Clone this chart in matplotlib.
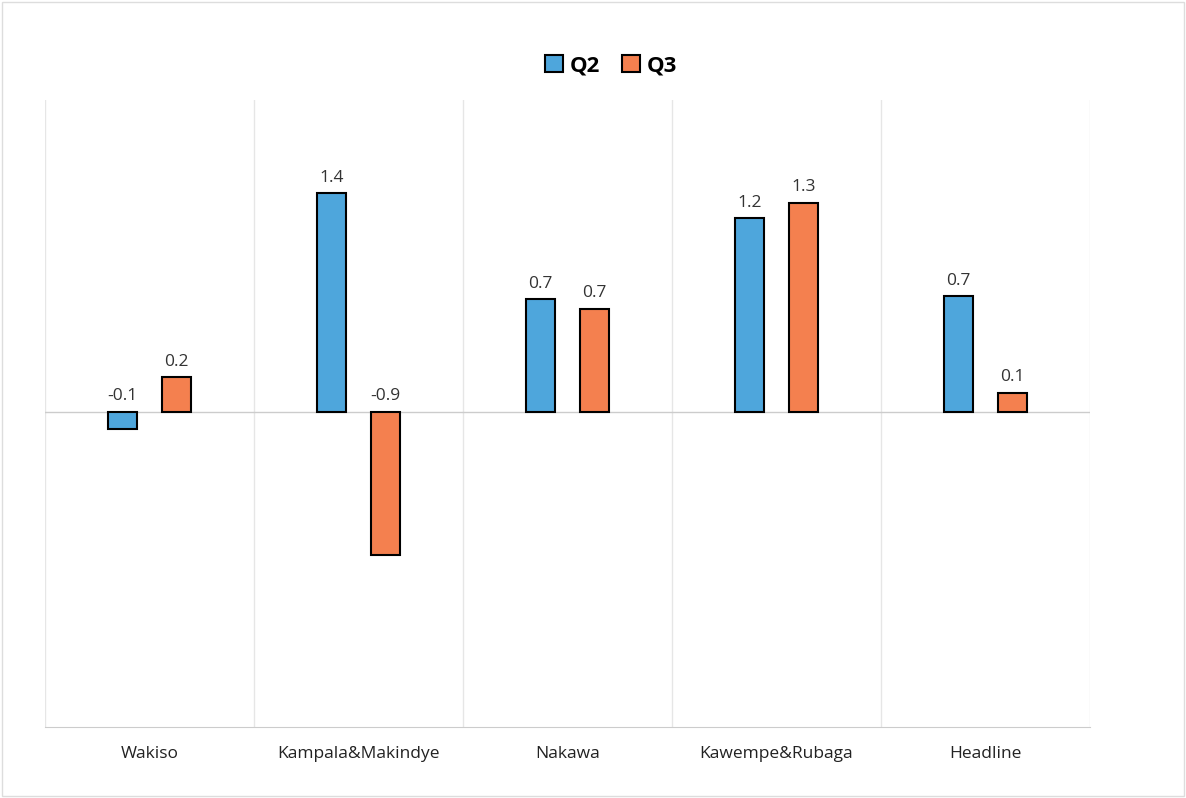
import matplotlib
matplotlib.use("Agg")
import matplotlib.pyplot as plt
import numpy as np
from matplotlib.patches import Patch

plt.rcParams['font.family'] = ['Open Sans', 'DejaVu Sans']

categories = ["Wakiso", "Kampala&Makindye", "Nakawa", "Kawempe&Rubaga", "Headline"]
q2 = [-0.11, 1.40, 0.72, 1.24, 0.74]
q3 = [0.22, -0.92, 0.66, 1.34, 0.12]
series_names = ["Q2", "Q3"]
colors = ["#4ea6dc", "#f4804f"]

fig = plt.figure(figsize=(11.86, 7.98), dpi=100)
ax = fig.add_axes([0.038, 0.089, 0.881, 0.786])

x = np.arange(len(categories))
w = 0.14
off = 0.13
ax.bar(x - off, q2, w, color=colors[0], edgecolor="black", linewidth=1.5, zorder=3)
ax.bar(x + off, q3, w, color=colors[1], edgecolor="black", linewidth=1.5, zorder=3)

for xi, v in zip(x - off, q2):
    ax.text(xi, max(v, 0) + 0.05, f"{v:.1f}", ha="center", va="bottom", fontsize=12.5, color="#333333")
for xi, v in zip(x + off, q3):
    ax.text(xi, max(v, 0) + 0.05, f"{v:.1f}", ha="center", va="bottom", fontsize=12.5, color="#333333")

ax.set_xlim(-0.5, len(categories) - 0.5)
ax.set_ylim(-2.02, 2.0)
ax.axhline(0, color="#cccccc", linewidth=1, zorder=1)
for b in np.arange(-0.5, len(categories), 1.0):
    ax.axvline(b, color="#e6e6e6", linewidth=1, zorder=0)

for s in ["top", "right", "left"]:
    ax.spines[s].set_visible(False)
ax.spines["bottom"].set_color("#cccccc")
ax.set_yticks([])
ax.set_xticks(x)
ax.set_xticklabels(categories, fontsize=12.5, color="#222222")
ax.tick_params(axis="x", length=0, pad=14)

handles = [Patch(facecolor=c, edgecolor="black", linewidth=1.5) for c in colors]
fig.legend(handles, series_names, loc="center", bbox_to_anchor=(0.515, 0.918), ncol=2,
           frameon=False, prop={"weight": "bold", "size": 16}, handlelength=0.8, handleheight=0.8,
           handletextpad=0.3, columnspacing=1.0)

fig.add_artist(plt.Rectangle((0.002, 0.002), 0.996, 0.996, transform=fig.transFigure,
                             fill=False, edgecolor="#dddddd", linewidth=1))

fig.savefig("out.png", dpi=100)
